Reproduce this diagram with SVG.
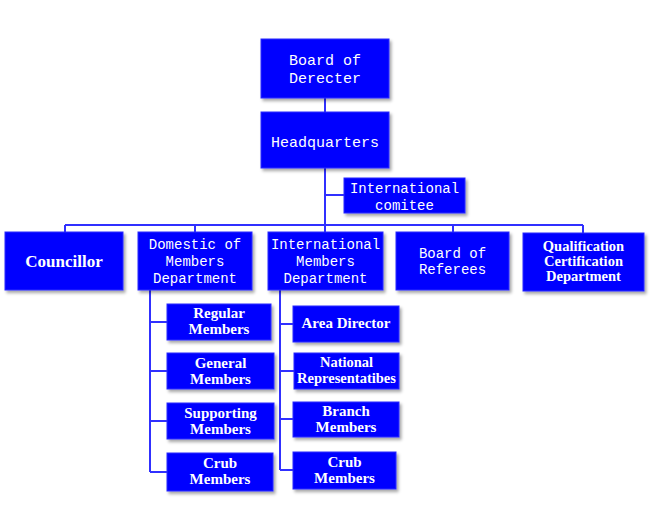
<svg xmlns="http://www.w3.org/2000/svg" width="650" height="531" viewBox="0 0 650 531">
<defs>
<filter id="sh" x="-10%" y="-10%" width="130%" height="140%">
<feDropShadow dx="2" dy="2.5" stdDeviation="1.5" flood-color="#000" flood-opacity="0.35"/>
</filter>
<style>
.box{fill:#0000ff;stroke:#2a2aff;stroke-width:1;filter:url(#sh)}
.m{font-family:"Liberation Mono","DejaVu Sans Mono",monospace;fill:#fff;text-anchor:middle}
.s{font-family:"Liberation Serif","Times New Roman",serif;font-weight:bold;fill:#fff;text-anchor:middle}
.ln{stroke:#3030ff;stroke-width:2;fill:none}
</style>
</defs>
<rect width="650" height="531" fill="#fff"/>
<g id="connectors">
<path class="ln" d="M325 98V112M325 168V225M325 195H344M65 225H583M65 225V232M195 225V232M453 225V232M583 225V233M325 225V232"/>
<path class="ln" d="M150 290V472M150 322H167M150 371H167M150 421H167M150 472H167"/>
<path class="ln" d="M280 290V470M280 324H293M280 371H294M280 419H293M280 470H293"/>
</g>
<g id="board">
<rect class="box" x="261" y="39" width="128" height="59"/>
<text class="m" font-size="15" x="325" y="65">Board of</text>
<text class="m" font-size="15" x="325" y="83">Derecter</text>
</g>
<g id="hq">
<rect class="box" x="261" y="112" width="128" height="56"/>
<text class="m" font-size="15" x="325" y="147">Headquarters</text>
</g>
<g id="comitee">
<rect class="box" x="344" y="178" width="121" height="35"/>
<text class="m" font-size="14" x="404.5" y="193">International</text>
<text class="m" font-size="14" x="404.5" y="210">comitee</text>
</g>
<g id="councillor">
<rect class="box" x="5" y="232" width="118" height="58"/>
<text class="s" font-size="17" x="64" y="267">Councillor</text>
</g>
<g id="domestic">
<rect class="box" x="138" y="232" width="114" height="58"/>
<text class="m" font-size="14" x="195" y="249">Domestic of</text>
<text class="m" font-size="14" x="195" y="266">Members</text>
<text class="m" font-size="14" x="195" y="283">Department</text>
</g>
<g id="intl">
<rect class="box" x="268" y="232" width="115" height="58"/>
<text class="m" font-size="14" x="325.5" y="249">International</text>
<text class="m" font-size="14" x="325.5" y="266">Members</text>
<text class="m" font-size="14" x="325.5" y="283">Department</text>
</g>
<g id="referees">
<rect class="box" x="396" y="232" width="113" height="58"/>
<text class="m" font-size="14" x="452.5" y="258">Board of</text>
<text class="m" font-size="14" x="452.5" y="274">Referees</text>
</g>
<g id="qualification">
<rect class="box" x="523" y="233" width="121" height="58"/>
<text class="s" font-size="14.5" x="583.5" y="251">Qualification</text>
<text class="s" font-size="14.5" x="583.5" y="266">Certification</text>
<text class="s" font-size="14.5" x="583.5" y="281">Department</text>
</g>
<g id="regular">
<rect class="box" x="167" y="304" width="104" height="36"/>
<text class="s" font-size="15" x="219" y="318">Regular</text>
<text class="s" font-size="15" x="219" y="334">Members</text>
</g>
<g id="general">
<rect class="box" x="167" y="353" width="107" height="36"/>
<text class="s" font-size="15" x="220.5" y="368">General</text>
<text class="s" font-size="15" x="220.5" y="384">Members</text>
</g>
<g id="supporting">
<rect class="box" x="167" y="403" width="107" height="36"/>
<text class="s" font-size="15" x="220.5" y="418">Supporting</text>
<text class="s" font-size="15" x="220.5" y="434">Members</text>
</g>
<g id="crub1">
<rect class="box" x="167" y="453" width="106" height="38"/>
<text class="s" font-size="15" x="220" y="468">Crub</text>
<text class="s" font-size="15" x="220" y="484">Members</text>
</g>
<g id="area">
<rect class="box" x="293" y="306" width="106" height="36"/>
<text class="s" font-size="15" x="346" y="328">Area Director</text>
</g>
<g id="national">
<rect class="box" x="294" y="353" width="105" height="36"/>
<text class="s" font-size="14.5" x="346.5" y="367">National</text>
<text class="s" font-size="14.5" x="346.5" y="383">Representatibes</text>
</g>
<g id="branch">
<rect class="box" x="293" y="402" width="106" height="35"/>
<text class="s" font-size="15" x="346" y="416">Branch</text>
<text class="s" font-size="15" x="346" y="432">Members</text>
</g>
<g id="crub2">
<rect class="box" x="293" y="452" width="103" height="37"/>
<text class="s" font-size="15" x="344.5" y="467">Crub</text>
<text class="s" font-size="15" x="344.5" y="483">Members</text>
</g>
</svg>
